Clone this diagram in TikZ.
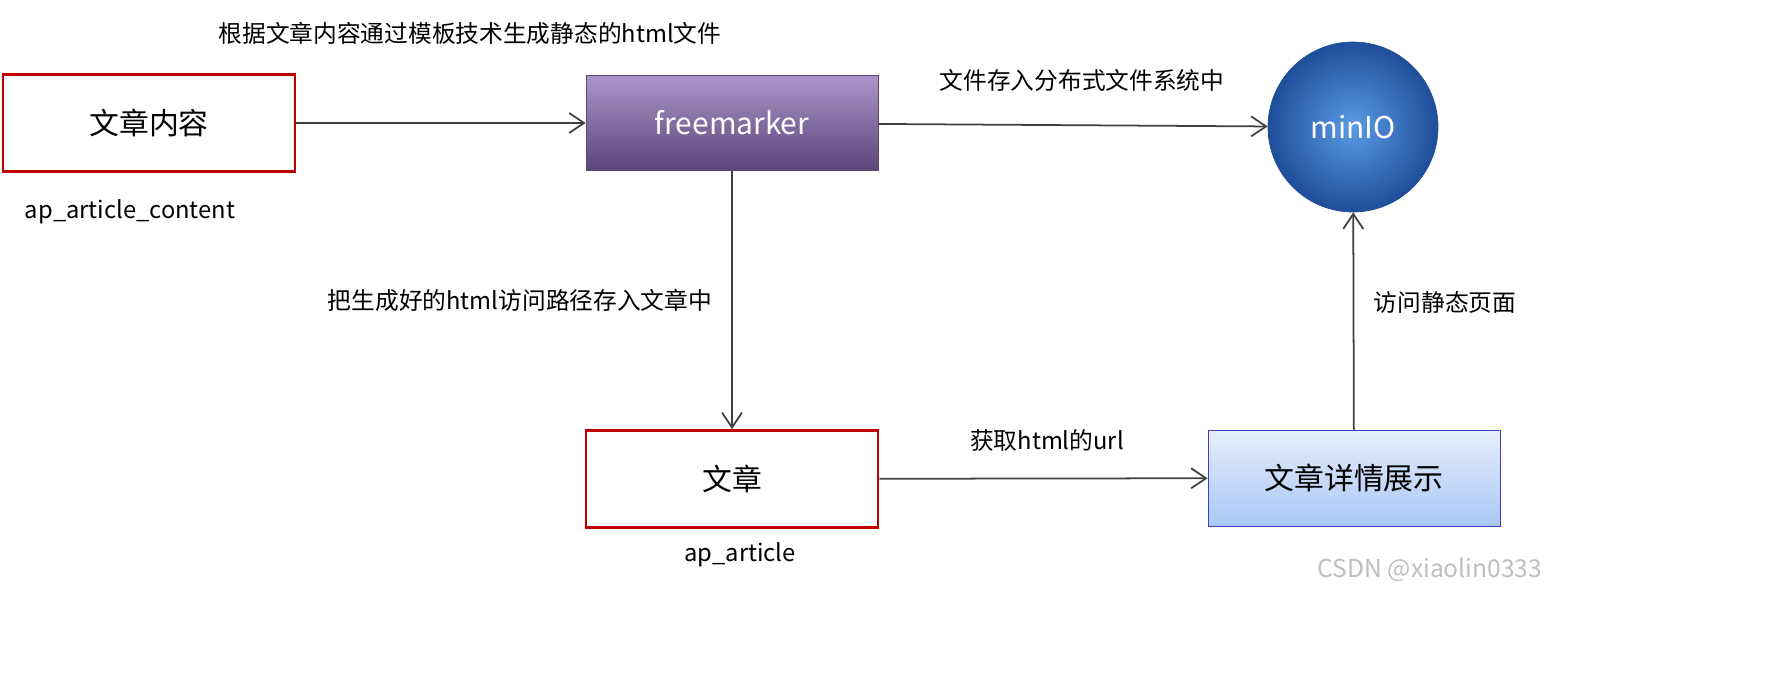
\documentclass[tikz,border=0pt]{standalone}
\usepackage{fontspec}
\setmainfont{Noto Sans CJK SC}
\usetikzlibrary{arrows.meta}
\definecolor{boxred}{HTML}{C00000}
\definecolor{lineg}{HTML}{404040}
\definecolor{fmtop}{HTML}{AA96C8}
\definecolor{fmbot}{HTML}{5C4578}
\definecolor{ballin}{HTML}{5B9BE6}
\definecolor{ballout}{HTML}{1F4E99}
\definecolor{dettop}{HTML}{E6EEFC}
\definecolor{detbot}{HTML}{A9C8F5}
\tikzset{
  redbox/.style={draw=boxred,line width=1.6pt,fill=white,minimum width=5.84cm,minimum height=1.94cm,font=\fontsize{17}{20}\selectfont},
  flow/.style={draw=lineg,line width=1pt,-{Straight Barb[length=3mm,width=4mm]}},
  lbl/.style={font=\fontsize{13.5}{16}\selectfont,text=black}
}
\begin{document}
\begin{tikzpicture}[x=0.02cm,y=-0.02cm]
\node[redbox] (content) at (149,123) {文章内容};
\node[lbl] (contentname) at (130,212) {ap\_article\_content};
\node[lbl] (toptext) at (470,33) {根据文章内容通过模板技术生成静态的html文件};
\node[minimum width=5.84cm,minimum height=1.9cm,top color=fmtop,bottom color=fmbot,
  draw=fmbot,text=white,font=\fontsize{17}{20}\selectfont] (fm) at (732,123) {freemarker};
\node[circle,minimum size=3.4cm,draw=ballout,inner color=ballin,outer color=ballout,
  text=white,font=\fontsize{17}{20}\selectfont] (minio) at (1353,127) {minIO};
\node[lbl] (storetext) at (1082,80) {文件存入分布式文件系统中};
\node[redbox] (article) at (732,479) {文章};
\node[lbl] (articlename) at (740,555) {ap\_article};
\node[lbl] (pathtext) at (520,300) {把生成好的html访问路径存入文章中};
\node[draw=blue!50!gray,minimum width=5.84cm,minimum height=1.92cm,top color=dettop,bottom color=detbot,
  font=\fontsize{17}{20}\selectfont] (detail) at (1354,478) {文章详情展示};
\node[lbl] (urltext) at (1047,440) {获取html的url};
\node[lbl] (visittext) at (1445,302) {访问静态页面};
\node[text=gray!50,font=\fontsize{14}{16}\selectfont] (mark) at (1430,570) {CSDN @xiaolin0333};
\draw[flow] (content) -- (fm);
\draw[flow] (fm) -- (minio);
\draw[flow] (fm) -- (article);
\draw[flow] (article) -- (detail);
\draw[flow] (detail) -- (minio);
\pgfresetboundingbox
\useasboundingbox (0,0) rectangle (1772,674);
\end{tikzpicture}
\end{document}
